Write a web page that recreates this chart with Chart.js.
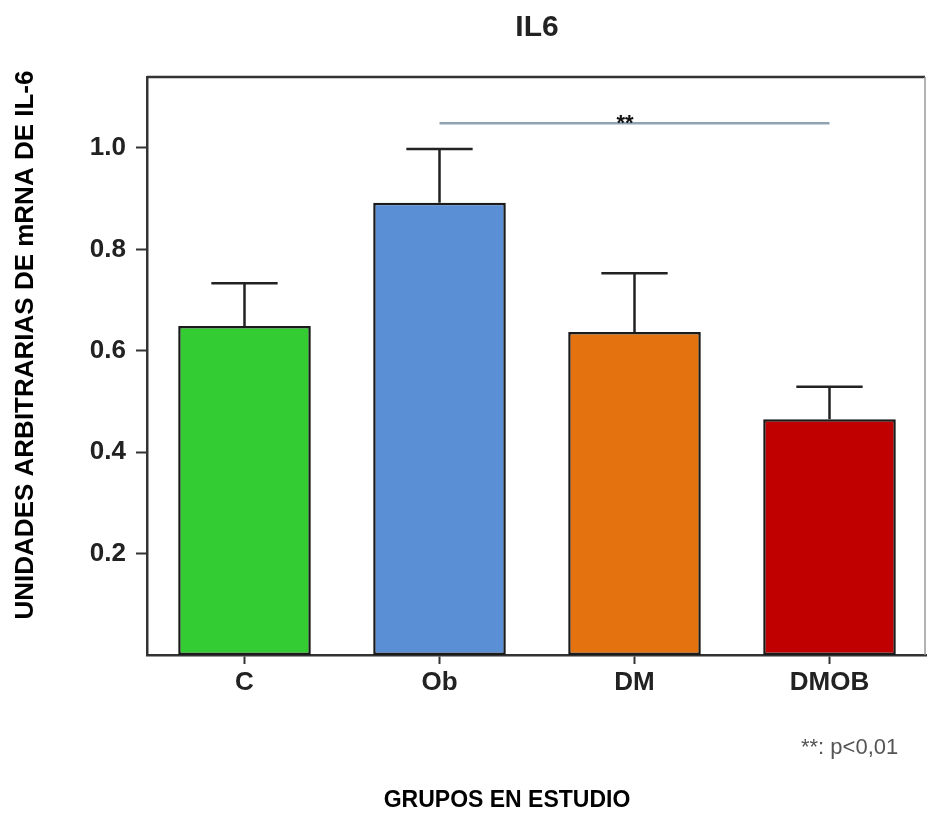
<!DOCTYPE html>
<html>
<head>
<meta charset="utf-8">
<script src="https://cdn.jsdelivr.net/npm/chart.js@4"></script>
<style>
  html, body { margin: 0; padding: 0; background: #fff; }
  #wrap { width: 927px; height: 819px; }
</style>
</head>
<body>
<div id="wrap"><canvas id="il6Chart"></canvas></div>
<script>
// data
const groups = ["C", "Ob", "DM", "DMOB"];
const means = [0.649, 0.892, 0.637, 0.465];
const errTops = [0.733, 0.998, 0.753, 0.529];
const barColors = ["#33cc33", "#5a8fd6", "#e3720f", "#c00000"];
const yTicks = [0.2, 0.4, 0.6, 0.8, 1.0];
// significance bracket: Ob vs DMOB
const sigFrom = 1;
const sigTo = 3;
const sigLevel = 1.049;
const sigText = "**";

const boldFont = "'Liberation Sans', Arial, sans-serif";

// error bars, significance line and extra texts
const extrasPlugin = {
  id: "extras",
  afterDatasetsDraw(chart) {
    const ctx = chart.ctx;
    const x = chart.scales.x;
    const y = chart.scales.y;
    const meta = chart.getDatasetMeta(0);

    ctx.save();
    ctx.strokeStyle = "#222";
    ctx.lineWidth = 2.5;
    for (let i = 0; i < means.length; i++) {
      const cx = x.getPixelForValue(i);
      const capW = meta.data[i].width / 2;
      const yTop = y.getPixelForValue(errTops[i]);
      const yBar = y.getPixelForValue(means[i]);
      ctx.beginPath();
      ctx.moveTo(cx, yBar);
      ctx.lineTo(cx, yTop);
      ctx.moveTo(cx - capW / 2, yTop);
      ctx.lineTo(cx + capW / 2, yTop);
      ctx.stroke();
    }

    // significance line
    const sy = y.getPixelForValue(sigLevel);
    ctx.strokeStyle = "#8fa3b3";
    ctx.lineWidth = 2.5;
    ctx.beginPath();
    ctx.moveTo(x.getPixelForValue(sigFrom), sy);
    ctx.lineTo(x.getPixelForValue(sigTo), sy);
    ctx.stroke();
    ctx.fillStyle = "#111";
    ctx.font = "bold 22px " + boldFont;
    ctx.textAlign = "center";
    ctx.textBaseline = "alphabetic";
    ctx.fillText(sigText, 625, sy + 7);
    ctx.restore();
  },
  afterDraw(chart) {
    const ctx = chart.ctx;
    const area = chart.chartArea;
    ctx.save();

    // frame top + right
    ctx.strokeStyle = "#333";
    ctx.lineWidth = 2.5;
    ctx.beginPath();
    ctx.moveTo(area.left, area.top);
    ctx.lineTo(area.right - 2, area.top);
    ctx.stroke();
    ctx.strokeStyle = "#999";
    ctx.lineWidth = 1.5;
    ctx.beginPath();
    ctx.moveTo(area.right - 2, area.top);
    ctx.lineTo(area.right - 2, area.bottom);
    ctx.stroke();

    // title
    ctx.fillStyle = "#222";
    ctx.textAlign = "center";
    ctx.textBaseline = "alphabetic";
    ctx.font = "bold 30px " + boldFont;
    ctx.fillText("IL6", 537, 36);

    // x title
    ctx.fillStyle = "#000";
    ctx.font = "bold 23px " + boldFont;
    ctx.fillText("GRUPOS EN ESTUDIO", 507, 807);

    // y title
    ctx.translate(33, 345);
    ctx.rotate(-Math.PI / 2);
    ctx.font = "bold 26px " + boldFont;
    ctx.fillText("UNIDADES ARBITRARIAS DE mRNA DE IL-6", 0, 0);
    ctx.setTransform(1, 0, 0, 1, 0, 0);

    // footnote
    ctx.fillStyle = "#555";
    ctx.font = "22px 'Liberation Sans', sans-serif";
    ctx.textAlign = "left";
    ctx.fillText("**: p<0,01", 801, 754);
    ctx.restore();
  }
};

const ilData = {
  labels: groups,
  datasets: [
    {
      data: means,
      backgroundColor: barColors,
      borderColor: "#1a1a1a",
      borderWidth: 2.5,
      borderSkipped: false,
      categoryPercentage: 1,
      barPercentage: 0.68,
    },
  ],
};

const ilConfig = {
  type: "bar",
  data: ilData,
  options: {
    responsive: false,
    animation: false,
    devicePixelRatio: 1,
    layout: { padding: { top: 77, right: 0, bottom: 0, left: 0 } },
    plugins: {
      legend: { display: false },
      tooltip: { enabled: false },
    },
    scales: {
      x: {
        grid: {
          display: true,
          drawOnChartArea: false,
          drawTicks: true,
          tickLength: 9,
          tickWidth: 2,
          tickColor: "#333",
          offset: false,
        },
        border: { display: true, color: "#333", width: 2.5 },
        ticks: {
          color: "#222",
          font: { size: 26, weight: "bold", family: boldFont },
          padding: 3,
        },
        afterFit(scale) {
          scale.height = 164;
        },
      },
      y: {
        min: 0,
        max: 1.14,
        afterBuildTicks(scale) {
          scale.ticks = yTicks.map((v) => ({ value: v }));
        },
        grid: {
          display: true,
          drawOnChartArea: false,
          drawTicks: true,
          tickLength: 11,
          tickWidth: 2,
          tickColor: "#333",
        },
        border: { display: true, color: "#333", width: 2.5 },
        ticks: {
          color: "#222",
          font: { size: 26, weight: "bold", family: boldFont },
          padding: 10,
          callback: (v) => v.toFixed(1),
        },
        afterFit(scale) {
          scale.width = 147;
        },
      },
    },
  },
  plugins: [extrasPlugin],
};

const canvas = document.getElementById("il6Chart");
canvas.width = 927;
canvas.height = 819;
const il6Chart = new Chart(canvas, ilConfig);
</script>
</body>
</html>
